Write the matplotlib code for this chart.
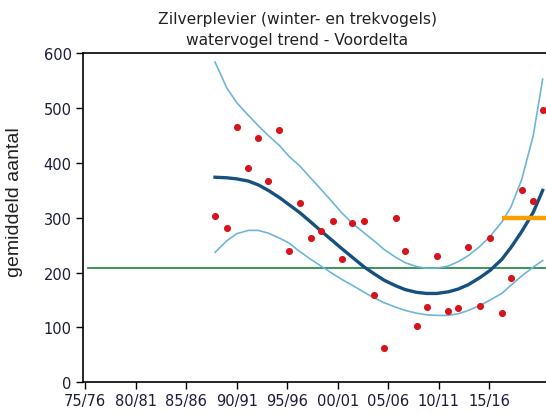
from matplotlib import pyplot as plt

# season positions (in years)
seasons = [1987.86, 1989.02, 1990.00, 1991.15, 1992.14, 1993.13, 1994.22, 1995.18,
           1996.27, 1997.35, 1998.34, 1999.50, 2000.45, 2001.44, 2002.63, 2003.59,
           2004.60, 2005.73, 2006.68, 2007.81, 2008.80, 2009.79, 2010.93, 2011.92,
           2012.91, 2014.07, 2015.06, 2016.22, 2017.14, 2018.20, 2019.34, 2020.27]

counts = [303, 281, 466, 390, 445, 367, 460, 240,
          327, 263, 276, 294, 224, 291, 294, 160,
          63, 299, 239, 103, 137, 230, 130, 136,
          247, 139, 263, 126, 190, 351, 330, 497]

trend = [374, 373, 371, 367, 360, 350, 337, 324,
         309, 292, 276, 258, 243, 228, 210, 198,
         186, 176, 169, 164, 162, 162, 165, 170,
         178, 191, 204, 224, 246, 275, 310, 350]

upper = [584, 537, 510, 487, 468, 450, 432, 412,
         394, 372, 352, 328, 308, 290, 272, 258,
         242, 228, 218, 211, 208, 208, 212, 220,
         231, 248, 266, 292, 320, 370, 450, 553]

lower = [237, 258, 271, 277, 277, 272, 263, 254,
         238, 224, 212, 198, 187, 177, 164, 154,
         145, 137, 131, 126, 123, 122, 122, 125,
         131, 140, 150, 162, 177, 194, 210, 222]

reference_level = 209
recent_level = 299
recent_from = 2016.2

tick_years = [1975, 1980, 1985, 1990, 1995, 2000, 2005, 2010, 2015]
tick_labels = ['75/76', '80/81', '85/86', '90/91', '95/96', '00/01', '05/06', '10/11', '15/16']


def main():
    fig = plt.figure(figsize=(5.46, 4.14), dpi=100)
    ax = fig.add_axes([0.1515, 0.0742, 0.8485, 0.7946])

    x_lo, x_hi = 1974.77, 2020.6
    ax.set_xlim(x_lo, x_hi)
    ax.set_ylim(0, 600)

    ax.axhline(reference_level, xmin=0.0114, color='#2e8b4a', lw=1.3, zorder=1)
    ax.plot(seasons, upper, color='#6db6d9', lw=1.2, zorder=2)
    ax.plot(seasons, lower, color='#6db6d9', lw=1.2, zorder=2)
    ax.plot(seasons, trend, color='#15507f', lw=2.4, zorder=3)
    ax.hlines(recent_level, recent_from, x_hi, color='#f7a000', lw=3.2, zorder=3)
    ax.scatter(seasons, counts, s=26, color='#d7141c', zorder=4, linewidths=0)

    ax.spines['right'].set_visible(False)
    for s in ['top', 'bottom', 'left']:
        ax.spines[s].set_linewidth(1.2)

    ax.set_xticks(tick_years)
    ax.set_xticklabels(tick_labels)
    ax.set_yticks(range(0, 601, 100))
    ax.tick_params(axis='both', direction='out', length=5, width=1,
                   labelsize=10.5, labelcolor='#1c1c3c', pad=3)

    ax.set_ylabel('gemiddeld aantal', fontsize=14, family='Liberation Sans',
                  color='#222222', labelpad=6)
    ax.yaxis.set_label_coords(-0.128, 0.55)

    fig.text(0.544, 0.953, 'Zilverplevier (winter- en trekvogels)',
             ha='center', va='center', fontsize=11.2, color='#222222')
    fig.text(0.544, 0.902, 'watervogel trend - Voordelta',
             ha='center', va='center', fontsize=11.2, color='#222222')

    plt.savefig('out.png', dpi=100)


if __name__ == '__main__':
    main()
